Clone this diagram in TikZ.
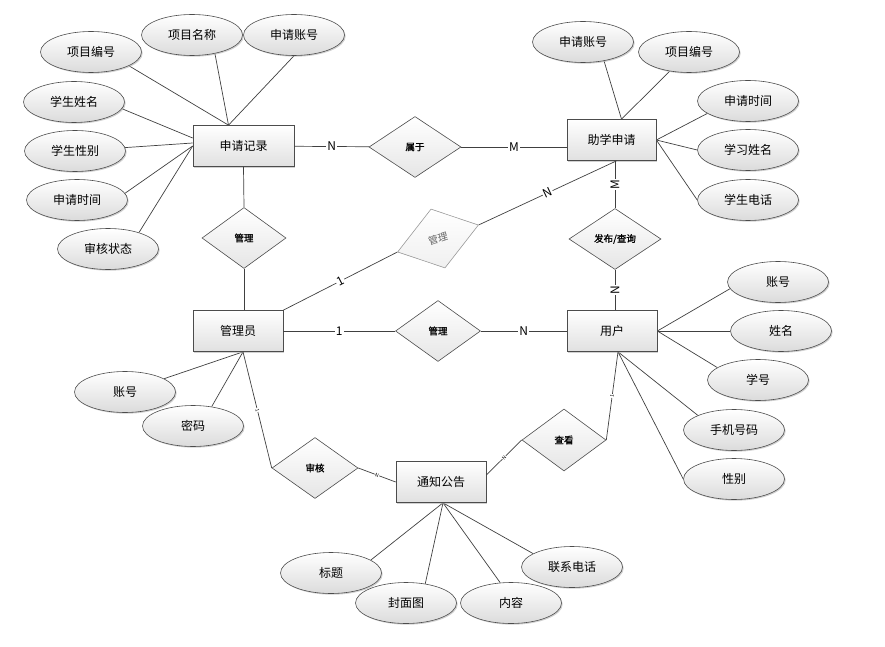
\documentclass[tikz,border=0pt]{standalone}
\usepackage{fontspec}
\setmainfont{Noto Sans CJK SC}
\newfontfamily\relfont{Noto Sans CJK SC}[FakeBold=1.2]
\usetikzlibrary{positioning, shapes.geometric, shadows, backgrounds}

\begin{document}
\begin{tikzpicture}[x=1pt, y=-1pt,
  line/.style={draw=black!75, line width=0.7pt},
  entity/.style={draw=black!70, line width=0.7pt, top color=white, bottom color=black!12,
    minimum width=90pt, minimum height=41pt, inner sep=0pt, font=\fontsize{12}{14}\selectfont,
    drop shadow={shadow xshift=1.2pt, shadow yshift=-1.2pt, fill=black!30, opacity=0.6}},
  attr/.style={ellipse, draw=black!70, line width=0.6pt, top color=white, bottom color=black!14,
    minimum width=101pt, minimum height=41pt, inner sep=0pt, font=\fontsize{12}{14}\selectfont,
    drop shadow={shadow xshift=1.2pt, shadow yshift=-1.2pt, fill=black!30, opacity=0.6}},
  relation/.style={diamond, draw=black!70, line width=0.6pt, top color=white, bottom color=black!10,
    minimum width=86pt, minimum height=61pt, inner sep=0pt, font=\relfont\fontsize{9.5}{11}\selectfont},
  card/.style={fill=white, inner sep=1pt, font=\fontsize{12}{12}\selectfont},
  tiny card/.style={fill=white, inner sep=0.5pt, font=\fontsize{5}{5}\selectfont}]
  \useasboundingbox (0,0) rectangle (885,647);

  % entities
  \node[entity, minimum width=101pt] (sqjl) at (243.5,146) {申请记录};
  \node[entity, minimum width=89pt] (zxsq) at (611.5,140) {助学申请};
  \node[entity] (gly) at (238,331) {管理员};
  \node[entity] (yh) at (612,331) {用户};
  \node[entity] (tzgg) at (441,482) {通知公告};

  % relations
  \node[relation, minimum width=92pt] (shuyu) at (415,147) {属于};
  \node[relation, minimum width=84pt] (gla) at (244,238) {管理};
  \node[relation, minimum width=92pt] (fbcx) at (615,239) {发布/查询};
  \node[relation, minimum width=85pt] (glc) at (438,331) {管理};
  \node[relation] (shenhe) at (315,468) {审核};
  \node[relation, minimum width=84pt, minimum height=62pt] (chakan) at (564,440) {查看};
  \node[relation, draw=black!40, bottom color=black!6, text=black!60, font=\fontsize{10}{12}\selectfont,
    minimum width=85pt, transform shape, cm={0.953,0.318,-0.23,0.967,(0,0)}] (glb) at (438,238.5) {管理};

  % attributes of 申请记录
  \node[attr] (xmbh1) at (91,52) {项目编号};
  \node[attr] (xmmc) at (192,35) {项目名称};
  \node[attr] (sqzh1) at (294,35) {申请账号};
  \node[attr] (xsxm) at (74,102) {学生姓名};
  \node[attr] (xsxb) at (75,151) {学生性别};
  \node[attr] (sqsj1) at (77,200) {申请时间};
  \node[attr] (shzt) at (108,249) {审核状态};
  % attributes of 助学申请
  \node[attr] (sqzh2) at (583,42) {申请账号};
  \node[attr] (xmbh2) at (689,52) {项目编号};
  \node[attr] (sqsj2) at (748,101) {申请时间};
  \node[attr] (xxxm) at (748,150) {学习姓名};
  \node[attr] (xsdh) at (748,200) {学生电话};
  % attributes of 用户
  \node[attr] (zh2) at (778,282) {账号};
  \node[attr] (xm) at (781,331) {姓名};
  \node[attr] (xh) at (758,380) {学号};
  \node[attr] (sjhm) at (734,430) {手机号码};
  \node[attr] (xb) at (734,479) {性别};
  % attributes of 管理员
  \node[attr] (zh1) at (125,392) {账号};
  \node[attr] (mm) at (193,426) {密码};
  % attributes of 通知公告
  \node[attr] (bt) at (331,573) {标题};
  \node[attr] (fmt) at (406,603) {封面图};
  \node[attr] (nr) at (511,603) {内容};
  \node[attr] (lxdh) at (572,567) {联系电话};

  % junctions on the entities
  \coordinate (sqjl top) at ([xshift=-15pt]sqjl.north);
  \coordinate (zxsq top) at ([xshift=10pt]zxsq.north);
  \coordinate (yh bottom) at ([xshift=6pt]yh.south);
  \coordinate (gly bottom) at ([xshift=5pt]gly.south);
  \coordinate (tzgg bottom) at ([xshift=2pt]tzgg.south);

  \begin{scope}[on background layer]
  \draw[line] (xmbh1.-20) -- (sqjl top);
  \draw[line] (xmmc.-39) -- (sqjl top);
  \draw[line] (sqzh1.south) -- (sqjl top);
  \draw[line] (xsxm.-8) -- ([yshift=8pt]sqjl.west);
  \draw[line] (xsxb) -- ([yshift=3pt]sqjl.west);
  \draw[line] (sqsj1.8) -- (sqjl.west);
  \draw[line] (shzt.28) -- (sqjl.west);

  \draw[line] (sqzh2.-42) -- (zxsq top);
  \draw[line] (xmbh2) -- (zxsq top);
  \draw[line] (sqsj2.197) -- (zxsq.east);
  \draw[line] (xxxm.west) -- (zxsq.east);
  \draw[line] (xsdh.west) -- (zxsq.east);

  \draw[line] (zh2.188) -- (yh.east);
  \draw[line] (xm.west) -- (yh.east);
  \draw[line] (xh.163) -- (yh.east);
  \draw[line] (sjhm.158) -- (yh bottom);
  \draw[line] (xb.west) -- (yh bottom);

  \draw[line] (zh1) -- (gly bottom);
  \draw[line] (mm.46) -- (gly bottom);

  \draw[line] (bt.18) -- (tzgg bottom);
  \draw[line] (fmt.45) -- (tzgg bottom);
  \draw[line] (nr.118) -- (tzgg bottom);
  \draw[line] (lxdh.161) -- (tzgg bottom);
  \end{scope}

  % relationships
  \draw[line] (sqjl) -- node[card] {N} (shuyu);
  \draw[line] (shuyu.east) -- node[card] {M} (shuyu.east -| zxsq.west);
  \draw[line] (sqjl.south) -- (gla.north);
  \draw[line] (gla.south) -- (gla.south |- gly.north);
  \draw[line] (fbcx.north |- zxsq.south) -- node[card, rotate=90] {M} (fbcx.north);
  \draw[line] (fbcx.south) -- node[card, rotate=90] {N} (fbcx.south |- yh.north);
  \draw[line] (gly.north east) -- node[card, sloped] {1} (glb.west);
  \draw[line] (glb.east) -- node[card, sloped] {N} ([xshift=5pt]zxsq.south);
  \draw[line] (gly) -- node[card] {1} (glc);
  \draw[line] (glc) -- node[card] {N} (yh);
  \draw[line] (gly bottom) -- node[tiny card, sloped] {1} (shenhe.west);
  \draw[line] (shenhe.east) -- node[tiny card, sloped] {N} (tzgg.west);
  \draw[line] ([yshift=7pt]tzgg.east) -- node[tiny card, sloped] {N} (chakan.west);
  \draw[line] (chakan.east) -- node[tiny card, sloped] {1} (yh bottom);
\end{tikzpicture}
\end{document}
